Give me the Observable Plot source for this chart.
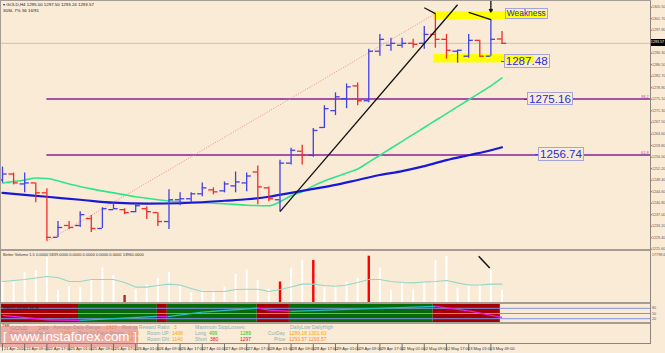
<!DOCTYPE html>
<html><head><meta charset="utf-8">
<script src="https://cdn.jsdelivr.net/npm/d3@7"></script>
<script src="https://cdn.jsdelivr.net/npm/@observablehq/plot@0.6"></script>
<style>
html,body{margin:0;padding:0;background:#faebd7;}
#wrap{position:relative;width:665px;height:353px;overflow:hidden;background:#faebd7;font-family:"Liberation Sans",Arial,sans-serif;}
.abs{position:absolute;}
.t{position:absolute;white-space:nowrap;font-size:5.5px;line-height:6px;color:#8fa9a9;}
.sep{position:absolute;left:0;width:651px;height:2px;background:#a59d93;}
.box{position:absolute;white-space:nowrap;border:1px solid #a4a4d8;color:#2b2bd8;line-height:1;padding:0 1px;}
.dash{position:absolute;height:1px;width:3px;background:#3a3ad8;}
svg{display:block;overflow:visible;}
</style></head><body><div id="wrap"></div><script>
// ---------------- DATA ----------------
const open  = [1248.47,1250.43,1247.16,1247.49,1244.22,1229.52,1233.44,1233.44,1235.73,1232.46,1238.67,1238.67,1238.01,1238.99,1237.69,1234.75,1241.94,1242.26,1243.90,1245.20,1244.88,1246.51,1247.49,1251.09,1245.86,1241.94,1254.03,1257.95,1256.64,1265.79,1271.35,1275.27,1279.52,1274.62,1290.96,1292.92,1292.92,1293.57,1293.57,1296.51,1294.88,1290.96,1289.32,1294.55,1289.32,1295.00];
const high  = [1252.72,1250.76,1250.76,1247.49,1245.53,1234.75,1234.75,1238.01,1236.71,1239.32,1240.96,1238.99,1240.96,1239.65,1237.69,1245.20,1244.22,1244.22,1247.49,1245.86,1247.82,1251.09,1250.76,1253.05,1246.18,1255.01,1258.93,1259.91,1265.47,1272.98,1277.23,1280.17,1280.50,1291.61,1296.51,1295.20,1295.20,1294.88,1299.13,1303.37,1296.51,1291.28,1296.51,1294.55,1301.41,1297.50];
const low   = [1247.49,1246.84,1244.22,1240.96,1228.21,1229.52,1232.13,1232.79,1231.15,1232.46,1238.67,1237.03,1237.69,1235.40,1233.11,1232.13,1239.97,1240.96,1242.92,1243.57,1244.22,1244.22,1244.55,1240.30,1241.28,1238.01,1253.37,1253.37,1255.99,1265.47,1269.71,1272.00,1272.98,1273.96,1289.32,1290.96,1291.94,1291.94,1291.61,1291.94,1288.34,1287.03,1288.67,1288.99,1289.32,1293.24];
const close = [1250.43,1247.49,1247.49,1244.22,1229.52,1232.79,1232.79,1237.03,1232.46,1238.99,1238.99,1237.69,1239.97,1238.01,1234.75,1241.94,1242.26,1243.90,1245.86,1244.55,1247.16,1247.82,1249.78,1246.18,1242.26,1254.03,1258.28,1256.64,1264.81,1272.00,1275.92,1279.19,1274.62,1290.96,1294.88,1293.57,1293.57,1293.24,1296.51,1294.88,1291.28,1291.28,1294.55,1289.32,1294.90,1293.57];

const maFastBar = [0,2,3,4,6,8,10,12,14,16,18,20,22,24,25,26,27,28,29,30,31,32,33,34,35,36,37,38,39,40,41,42,43,44,45];
const maFast    = [1247.49,1248.47,1249.13,1248.96,1247.16,1245.53,1244.22,1242.92,1241.94,1241.28,1240.96,1240.63,1240.14,1239.97,1241.28,1243.24,1244.55,1246.51,1248.14,1249.45,1250.76,1252.07,1254.35,1256.64,1258.93,1261.22,1263.51,1265.79,1268.08,1270.37,1272.66,1274.95,1277.23,1279.52,1282.13];
const maSlowBar = [0,2,4,7,10,13,16,18,20,22,24,26,28,30,32,34,36,38,40,42,44,45];
const maSlow    = [1244.22,1243.57,1242.92,1241.94,1240.96,1240.63,1240.79,1241.12,1241.61,1242.10,1242.92,1244.22,1245.53,1246.84,1248.47,1250.10,1251.41,1253.05,1255.01,1256.64,1258.28,1259.26];

const priceTicks = [1305.50,1301.70,1297.90,1290.30,1286.50,1282.70,1278.90,1275.10,1271.30,1267.50,1263.60,1259.80,1256.00,1252.20,1248.40,1244.60,1240.80,1237.00,1233.20,1229.40,1225.60];
const lastPrice = 1293.57;

const fibLevels = [1275.16, 1256.74];
const fibNames  = ["38.2", "61.8"];
const fibFromBar = 4;
const swingLowBar = 4, swingHighBar = 39;

const zoneBar1 = [38.85, 38.85];
const zoneBar2 = [48.95, 47.85];
const zoneLow  = [1301.2, 1287.1];
const zoneHigh = [1304.0, 1289.85];

const trendBars   = [25, 41];
const trendPrices = [1238.01, 1306.30];
const divBars1 = [38, 39], divPrices1 = [1305.30, 1303.37];
const divBars2 = [42, 44], divPrices2 = [1303.80, 1301.41];
const arrowBar = 44, arrowFrom = 1307.6, arrowTo = 1303.9;

const labelText  = ["Weakness", "1287.48", "1275.16", "1256.74"];
const labelPrice = [1303.30, 1287.48, 1275.16, 1256.74];
const labelBar   = [45.3, 45.2, 47.3, 48.3];

const volume = [6980,7160,10470,11170,15710,4180,5590,5240,7680,12040,9420,2450,4530,6110,8370,10470,5590,3490,4190,4190,5380,9770,11270,7680,4640,7160,12040,14660,14660,5060,5660,7160,8370,16160,12040,4190,6840,4640,6840,14660,16160,5060,5660,6110,11270,4190];
const volumeType = ["n","n","n","n","n","n","n","n","n","n","n","low","n","n","n","n","n","n","n","n","n","n","n","n","n","climax","n","n","climax","n","n","n","n","climax","n","n","n","n","n","n","n","n","n","n","n","n"];
const volumeMA = [7330,7680,8020,8550,9080,8730,7330,7330,8020,8020,8020,6980,5380,5380,5940,6420,6110,4880,3840,3840,3840,4530,4640,4640,3840,4530,5380,6420,6420,5940,5660,6110,6980,8020,8020,7330,6980,6840,7160,7330,7680,6840,6110,6110,6420,6420];
const volumeMax = 17798.6;
const volDivBars = [42.9, 43.9], volDivVals = [16160, 12040];

const bandX1 = [-0.2, 6.85, 13.95, 14.85, 22.95, 25.85, 38.8];
const bandX2 = [6.85, 13.95, 14.85, 22.95, 25.85, 38.8, 44.85];
const bandTrend = ["down","up","down","up","down","up","down"];
const oscBar = [0,4,7,13.9,14.9,18,23,24,26,39,42,45];
const oscVal = [39,14,10,34,32,58,81,70,62,91,65,28];
const oscLevels = [80, 50, 20];

const timeLabels = ["21 Apr 2016","22 Apr 09:00","22 Apr 17:00","25 Apr 01:00","25 Apr 09:00","25 Apr 17:00","26 Apr 01:00","26 Apr 09:00","26 Apr 17:00","27 Apr 01:00","27 Apr 09:00","27 Apr 17:00","28 Apr 01:00","28 Apr 09:00","28 Apr 17:00","29 Apr 01:00","29 Apr 09:00","29 Apr 17:00","2 May 01:00","2 May 09:00","2 May 17:00","3 May 01:00","3 May 09:00"];

// ---------------- LAYOUT ----------------
const wrap = document.getElementById("wrap");
const FONT = "Liberation Sans, Arial, sans-serif";
const xDomain = [-0.18, 58.38];
const common = {width: 665, marginLeft: 0, marginRight: 15, marginTop: 0, marginBottom: 0,
  style: {background: "transparent", fontFamily: FONT, overflow: "visible"},
  x: {domain: xDomain, axis: null}};
function mount(plot, top) { const d = document.createElement("div"); d.className = "abs"; d.style.left = "0px"; d.style.top = top + "px"; d.appendChild(plot); wrap.appendChild(d); return plot; }
function div(cls, css, text) { const d = document.createElement("div"); d.className = cls; Object.assign(d.style, css); if (text != null) d.textContent = text; wrap.appendChild(d); return d; }

const bars = open.map((o, i) => ({i, o, h: high[i], l: low[i], c: close[i], up: close[i] >= o}));
const UP = "#4040e6", DN = "#ee2c2c";
const AXF = 3.7;

// ---- price panel ----
const pricePlot = mount(Plot.plot({...common, height: 249,
  y: {domain: [1225.52, 1307.70], axis: null},
  marks: [
    Plot.rect(zoneLow, {x1: (d, i) => zoneBar1[i], x2: (d, i) => zoneBar2[i], y1: d => d, y2: (d, i) => zoneHigh[i], fill: "#ffff00"}),
    Plot.ruleY([lastPrice], {stroke: "#c9c1bb", strokeWidth: 1}),
    Plot.ruleY(fibLevels, {x1: fibFromBar, x2: xDomain[1], stroke: "#a552a8", strokeWidth: 2}),
    Plot.text(fibLevels, {x: xDomain[1], y: d => d, text: (d, i) => fibNames[i], dx: -2, dy: -2.5, textAnchor: "end", fontSize: 3.8, fill: "#a552a8"}),
    Plot.link([0], {x1: swingLowBar, y1: low[swingLowBar], x2: swingHighBar, y2: high[swingHighBar], stroke: "#f08a8a", strokeWidth: 1, strokeDasharray: "1,1.6"}),
    Plot.line(maFast, {x: (d, i) => maFastBar[i], y: d => d, stroke: "#2fe58b", strokeWidth: 1.6, curve: "monotone-x"}),
    Plot.line(maSlow, {x: (d, i) => maSlowBar[i], y: d => d, stroke: "#1818d6", strokeWidth: 2.2, curve: "monotone-x"}),
    Plot.ruleX(bars, {x: "i", y1: "l", y2: "h", stroke: d => d.up ? UP : DN, strokeWidth: 1.3}),
    Plot.ruleY(bars, {y: "o", x1: d => d.i - 0.42, x2: "i", stroke: d => d.up ? UP : DN, strokeWidth: 1.3}),
    Plot.ruleY(bars, {y: "c", x1: "i", x2: d => d.i + 0.42, stroke: d => d.up ? UP : DN, strokeWidth: 1.3}),
    Plot.link([0], {x1: trendBars[0], y1: trendPrices[0], x2: trendBars[1], y2: trendPrices[1], stroke: "#111", strokeWidth: 1.3}),
    Plot.link([0], {x1: divBars1[0], y1: divPrices1[0], x2: divBars1[1], y2: divPrices1[1], stroke: "#111", strokeWidth: 1.3}),
    Plot.link([0], {x1: divBars2[0], y1: divPrices2[0], x2: divBars2[1], y2: divPrices2[1], stroke: "#111", strokeWidth: 1.3}),
    Plot.arrow([0], {x1: arrowBar, y1: arrowFrom, x2: arrowBar, y2: arrowTo, stroke: "#111", strokeWidth: 1.4, headLength: 3, strokeDasharray: "1.5,1"}),
    Plot.ruleX([xDomain[1]], {stroke: "#8c857d"}),
    Plot.axisY(priceTicks, {anchor: "right", tickSize: 1, tickPadding: 0.4, fontSize: AXF, fill: "#5a5a5a", stroke: "#777", tickFormat: d => d.toFixed(2), label: null})
  ]}), 0);

const sx = pricePlot.scale("x"), sy = pricePlot.scale("y");

// level label boxes
labelText.forEach((txt, k) => {
  const big = k > 0;
  const b = div("box", {left: sx.apply(labelBar[k]) + "px", fontSize: big ? "11.6px" : "8.4px",
    background: k >= 2 ? "#faebd7" : "transparent"}, txt);
  const h = b.offsetHeight;
  b.style.top = (sy.apply(labelPrice[k]) - h / 2) + "px";
  if (big) div("dash", {left: (sx.apply(labelBar[k]) - 3) + "px", top: sy.apply(labelPrice[k]) + "px"});
});
// last price tag on the axis
const tag = div("t", {left: "650px", width: "15px", height: "7px", lineHeight: "7px", background: "#000", color: "#fff", fontSize: AXF + "px", textAlign: "center"}, lastPrice.toFixed(2));
tag.style.top = (sy.apply(lastPrice) - 3.5) + "px";

// header text
div("t", {left: "3px", top: "2px", color: "#222", fontSize: "4.4px"}, "\u25BE GOLD,H4  1295.00 1297.50 1293.24 1293.57");
div("t", {left: "3px", top: "8px", color: "#222", fontSize: "4.4px"}, "30SL      7% 56      16/91");

// ---- volume panel ----
div("sep", {top: "249px"});
mount(Plot.plot({...common, height: 51,
  y: {domain: [0, volumeMax], axis: null},
  marks: [
    Plot.ruleX(volume, {x: (d, i) => i, y1: 0, y2: d => d, stroke: (d, i) => volumeType[i] === "climax" ? "#ff0000" : volumeType[i] === "low" ? "#b02a2a" : "#ffffff", strokeWidth: (d, i) => volumeType[i] === "n" ? 2 : 2.4}),
    Plot.line(volumeMA, {x: (d, i) => i, y: d => d, stroke: "#93d8c6", strokeWidth: 1.1}),
    Plot.link([0], {x1: volDivBars[0], y1: volDivVals[0], x2: volDivBars[1], y2: volDivVals[1], stroke: "#111", strokeWidth: 1.5}),
    Plot.ruleX([xDomain[1]], {stroke: "#8c857d"}),
    Plot.text([volumeMax], {x: xDomain[1], y: d => d, text: d => d.toFixed(1), dx: 1.5, dy: 3, textAnchor: "start", fontSize: AXF, fill: "#5a5a5a"})
  ]}), 251);
div("t", {left: "3px", top: "252px", color: "#333", fontSize: "4px"}, "Better Volume 1.5 0.0000 5839.0000 0.0000 0.0000 0.0000 0.0000 13960.0000");

// ---- band panel ----
div("sep", {top: "302px"});
const oscPts = oscBar.map((b, i) => ({b, v: oscVal[i]}));
const oscSegs = oscPts.slice(1).map((p, i) => ({b1: oscPts[i].b, v1: oscPts[i].v, b2: p.b, v2: p.v}));
mount(Plot.plot({...common, height: 18,
  y: {domain: [-1.9, 101.9], axis: null},
  marks: [
    Plot.rect(bandTrend, {x1: (d, i) => bandX1[i], x2: (d, i) => bandX2[i], y1: -1.9, y2: 101.9, fill: d => d === "up" ? "#066a06" : "#a20000"}),
    Plot.ruleY(oscLevels, {stroke: "#7f92e8", strokeWidth: 1}),
    Plot.link(oscSegs, {x1: "b1", y1: "v1", x2: "b2", y2: "v2", stroke: d => d.v2 < d.v1 ? "#e31fe3" : "#23bdbd", strokeWidth: 1.3}),
    Plot.ruleX([xDomain[1]], {stroke: "#8c857d"}),
    Plot.text(oscLevels, {x: xDomain[1], y: d => d, text: d => String(d), dx: 1.5, textAnchor: "start", fontSize: AXF, fill: "#5a5a5a"})
  ]}), 304);
div("t", {left: "3px", top: "305px", color: "#1a1a1a", fontSize: "4px"}, "RSX(C,14,50) 18.30");
div("sep", {top: "322px"});

// ---- info panel ----
const info = [
  ["TSR", 2, 325, "#333", 3.8],
  ["GOLD", 10, 324.5, "#6f9a9a", 6.2], ["240", 38, 324.5, "#6f9a9a", 6.2],
  ["Average Daily Range:", 53, 325, "#8fb0b0", 5], ["1937", 106, 325, "#ffa500", 5],
  ["Risk to Reward Ratio:", 122, 325, "#8fb0b0", 5], ["3", 174, 325, "#ffa500", 5],
  ["Maximum StopLosses:", 195, 325, "#8fb0b0", 5], ["DailyLow  DailyHigh", 290, 325, "#8fb0b0", 5],
  ["Prev 1 Day Range", 9, 331, "#8fb0b0", 5], ["1606", 61, 331, "#ffa500", 5],
  ["Prev 10 Days Range", 78, 331, "#8fb0b0", 5], ["2160", 128, 331, "#ffa500", 5],
  ["Room UP:", 147, 331, "#8fb0b0", 5], ["1498", 172, 331, "#ffa500", 5],
  ["Long", 195, 331, "#8fb0b0", 5], ["499", 209, 331, "#19c819", 5], ["1289", 240, 331, "#19c819", 5],
  ["CurDay", 268, 331, "#8fb0b0", 5], ["1289.18 1301.63", 289, 331, "#ffa500", 5],
  ["1676", 128, 336.5, "#ffa500", 5],
  ["Room DN:", 147, 336.5, "#8fb0b0", 5], ["1140", 172, 336.5, "#ffa500", 5],
  ["Short", 195, 336.5, "#8fb0b0", 5], ["380", 210, 336.5, "#ee1111", 5], ["1297", 240, 336.5, "#ee1111", 5],
  ["Price", 274, 336.5, "#8fb0b0", 5], ["1293.57 1293.57", 289, 336.5, "#ff8a2a", 5]
];
info.forEach(([txt, x, y, col, fs]) => div("t", {left: x + "px", top: y + "px", color: col, fontSize: fs + "px", lineHeight: fs + "px"}, txt));

// watermark
div("abs", {left: "0px", top: "326px", width: "138px", height: "21px", background: "rgba(226,120,120,0.55)"});
div("t", {left: "3px", top: "329px", color: "#ffffff", fontSize: "13.4px", lineHeight: "15px"}, "[ www.instaforex.com ]");

// ---- time axis ----
div("abs", {left: "0px", top: "343px", width: "651px", height: "1px", background: "#8c857d"});
mount(Plot.plot({...common, height: 9,
  y: {domain: [0, 1], axis: null},
  marks: [
    Plot.ruleX(timeLabels, {x: (d, i) => i * 2, y1: 0.25, y2: 1, stroke: "#555", strokeWidth: 0.8}),
    Plot.text(timeLabels, {x: (d, i) => i * 2, y: 0.55, text: d => d, dx: 1.5, textAnchor: "start", fontSize: 4, fill: "#333"})
  ]}), 344);

// frame lines
div("abs", {left: "650px", top: "0px", width: "1px", height: "344px", background: "#8c857d"});
div("abs", {left: "0px", top: "0px", width: "1px", height: "344px", background: "#a59d93"});
div("abs", {left: "0px", top: "0px", width: "651px", height: "1px", background: "#a59d93"});
</script></body></html>
